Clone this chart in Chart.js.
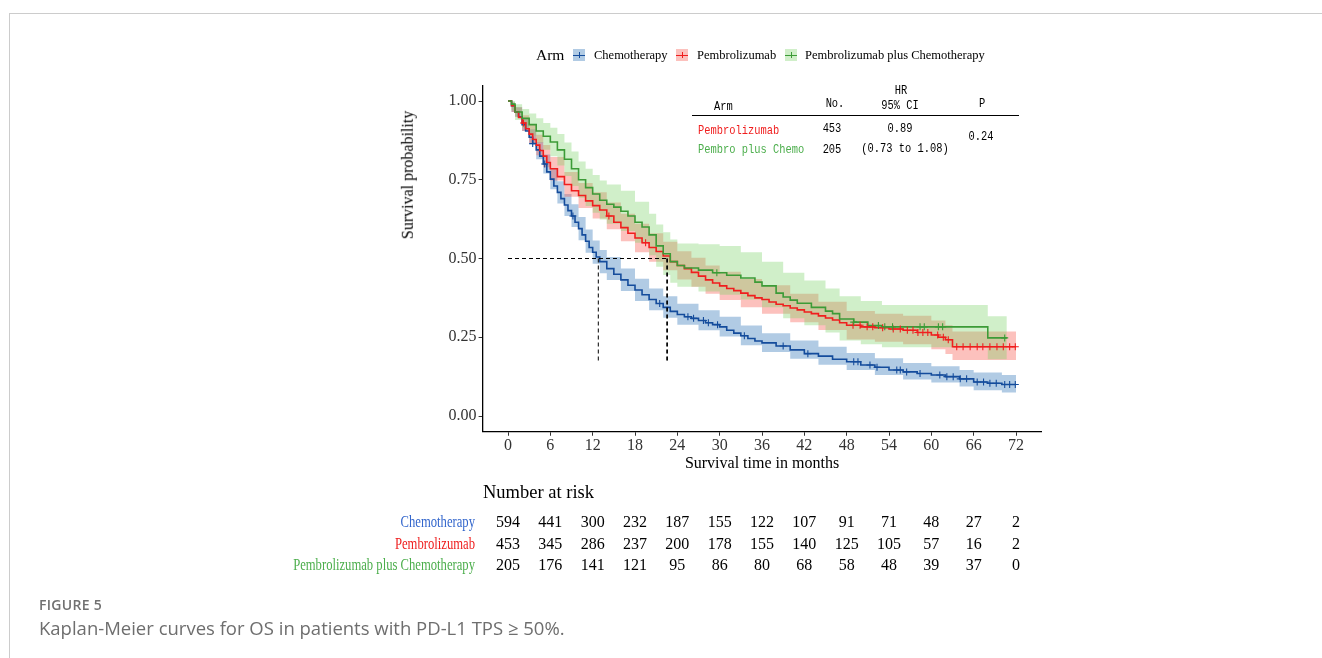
<!DOCTYPE html>
<html>
<head>
<meta charset="utf-8">
<title>Kaplan-Meier OS PD-L1 TPS 50%</title>
<script src="https://cdn.jsdelivr.net/npm/chart.js@4.4.1/dist/chart.umd.min.js"></script>
<style>
    html, body { margin: 0; padding: 0; background: #fff; }
    #page { position: relative; width: 1322px; height: 658px; overflow: hidden; font-family: 'Liberation Serif', 'Times New Roman', serif; color: #000; }
    #frame { position: absolute; left: 9px; top: 13px; right: 0; bottom: 0; border-top: 1px solid #cccccc; border-left: 1px solid #cccccc; }
    #wrap { position: absolute; left: 0; top: 0; width: 1322px; height: 658px; }
    .t { position: absolute; white-space: nowrap; line-height: 1.15; }
    .key { position: absolute; width: 12px; height: 12px; }
    .key i { position: absolute; display: block; }
    #hrLine { position: absolute; left: 692px; top: 115px; width: 327px; height: 1px; background: #000; }
</style>
</head>
<body>
<div id="page">
    <div id="frame"></div>
    <div id="wrap"><canvas id="kmChart" width="1322" height="658"></canvas></div>
    <div id="hrLine"></div>
</div>

<script>
// survival curves (months, probability)
var chemoTime = [0, 0.5, 1, 1.5, 2, 2.5, 3, 3.5, 4, 4.5, 5, 5.5, 6, 6.5, 7, 7.5, 8, 8.5, 9, 9.5, 10, 10.5, 11, 11.5, 12, 12.5, 13,
    14, 15, 16, 17, 18, 19, 20, 21, 22, 23, 24, 25, 26, 27, 28, 29, 30, 31, 32, 33, 34, 35, 36,
    38, 40, 42, 44, 46, 48, 50, 52, 54, 56, 58, 60, 62, 64, 66, 68, 70, 72];
var chemoSurv = [1.000, 0.985, 0.965, 0.950, 0.925, 0.905, 0.885, 0.865, 0.845, 0.825, 0.800, 0.775, 0.752, 0.730, 0.710, 0.690, 0.670, 0.652, 0.635, 0.615, 0.595, 0.575, 0.555, 0.535, 0.520, 0.505, 0.490,
    0.468, 0.450, 0.432, 0.415, 0.400, 0.385, 0.370, 0.357, 0.345, 0.332, 0.322, 0.315, 0.310, 0.303, 0.296, 0.290, 0.283, 0.272, 0.263, 0.255, 0.246, 0.238, 0.232,
    0.222, 0.210, 0.198, 0.190, 0.180, 0.172, 0.162, 0.155, 0.146, 0.140, 0.135, 0.130, 0.125, 0.118, 0.108, 0.104, 0.100, 0.100];

var pemTime = [0, 0.5, 1, 1.5, 2, 2.5, 3, 3.5, 4, 4.5, 5, 5.5, 6,
    7, 8, 9, 10, 11, 12, 13, 14, 15, 16, 17, 18, 19, 20, 21, 22, 23, 24, 25, 26, 27, 28, 29, 30, 31, 32, 33, 34, 35, 36, 37, 38, 39, 40, 41, 42, 43, 44, 45, 46, 47, 48,
    50, 52, 54, 56, 58, 60, 61, 62, 63, 72];
var pemSurv = [1.000, 0.985, 0.965, 0.948, 0.930, 0.912, 0.895, 0.878, 0.860, 0.843, 0.825, 0.805, 0.785,
    0.760, 0.735, 0.715, 0.700, 0.683, 0.668, 0.654, 0.635, 0.615, 0.598, 0.580, 0.565, 0.550, 0.535, 0.522, 0.508, 0.490, 0.478, 0.468, 0.456, 0.444, 0.432, 0.422, 0.413, 0.405, 0.398, 0.390, 0.382, 0.375, 0.370, 0.362, 0.355, 0.350, 0.343, 0.337, 0.330, 0.325, 0.318, 0.311, 0.305, 0.296, 0.288,
    0.283, 0.280, 0.276, 0.272, 0.265, 0.257, 0.250, 0.242, 0.220, 0.220];

var comboTime = [0, 0.5, 1, 2, 3, 4, 5, 6, 7, 8, 9, 10, 11, 12, 13, 14, 15, 16, 17, 18, 19, 20, 21, 22, 23, 24, 25,
    27, 29, 31, 33, 35, 36, 38, 39, 40, 41, 43, 45, 46, 47, 49, 51, 53, 68, 70.7];
var comboSurv = [1.000, 0.990, 0.965, 0.945, 0.925, 0.905, 0.888, 0.870, 0.845, 0.815, 0.785, 0.750, 0.725, 0.705, 0.685, 0.672, 0.663, 0.650, 0.635, 0.615, 0.600, 0.575, 0.540, 0.515, 0.490, 0.478, 0.470,
    0.463, 0.455, 0.447, 0.438, 0.425, 0.413, 0.390, 0.378, 0.368, 0.358, 0.345, 0.333, 0.325, 0.308, 0.298, 0.287, 0.283, 0.248, 0.248];

// 95% confidence bands
var chemoBandTime = [0, 0.5, 1, 2, 3, 4, 5, 6, 7, 8, 9, 10, 11, 12, 13, 14, 16, 18, 20, 22, 24, 27, 30, 33, 36, 40, 44, 48, 52, 56, 60, 64, 66, 70, 72];
var chemoLower = [1.000, 0.965, 0.950, 0.905, 0.860, 0.815, 0.770, 0.720, 0.675, 0.635, 0.600, 0.558, 0.518, 0.483, 0.453, 0.432, 0.397, 0.365, 0.336, 0.312, 0.290, 0.272, 0.252, 0.225, 0.203, 0.182, 0.163, 0.146, 0.130, 0.116, 0.106, 0.094, 0.082, 0.075, 0.075];
var chemoUpper = [1.000, 0.995, 0.980, 0.945, 0.910, 0.870, 0.830, 0.785, 0.745, 0.705, 0.672, 0.632, 0.592, 0.557, 0.527, 0.505, 0.468, 0.436, 0.405, 0.380, 0.356, 0.336, 0.315, 0.287, 0.263, 0.240, 0.220, 0.200, 0.183, 0.168, 0.158, 0.146, 0.138, 0.130, 0.130];

var pemBandTime = [0, 0.5, 1, 2, 3, 4, 5, 6, 8, 10, 12, 14, 16, 18, 20, 22, 24, 26, 28, 30, 33, 36, 40, 44, 48, 52, 56, 60, 62, 63, 72];
var pemLower = [1.000, 0.965, 0.950, 0.905, 0.865, 0.828, 0.790, 0.748, 0.696, 0.660, 0.627, 0.593, 0.555, 0.520, 0.490, 0.463, 0.433, 0.410, 0.388, 0.368, 0.345, 0.325, 0.298, 0.273, 0.243, 0.236, 0.228, 0.212, 0.197, 0.178, 0.178];
var pemUpper = [1.000, 0.995, 0.980, 0.955, 0.925, 0.893, 0.860, 0.822, 0.775, 0.740, 0.710, 0.678, 0.642, 0.610, 0.580, 0.553, 0.523, 0.502, 0.478, 0.458, 0.435, 0.415, 0.388, 0.363, 0.333, 0.325, 0.318, 0.303, 0.288, 0.268, 0.268];

var comboBandTime = [0, 0.5, 1, 2, 3, 4, 5, 6, 7, 8, 9, 10, 11, 12, 13, 14, 16, 18, 20, 21, 22, 23, 24, 27, 30, 33, 36, 39, 42, 45, 47, 50, 53, 68, 70.7];
var comboLower = [1.000, 0.970, 0.940, 0.915, 0.890, 0.868, 0.845, 0.825, 0.795, 0.762, 0.730, 0.693, 0.667, 0.645, 0.624, 0.610, 0.587, 0.550, 0.510, 0.474, 0.448, 0.423, 0.410, 0.395, 0.385, 0.370, 0.345, 0.310, 0.288, 0.265, 0.240, 0.228, 0.218, 0.180, 0.180];
var comboUpper = [1.000, 1.000, 0.990, 0.975, 0.960, 0.945, 0.930, 0.915, 0.895, 0.868, 0.840, 0.808, 0.785, 0.765, 0.748, 0.735, 0.715, 0.680, 0.642, 0.608, 0.583, 0.560, 0.548, 0.545, 0.540, 0.520, 0.490, 0.455, 0.430, 0.405, 0.380, 0.365, 0.352, 0.317, 0.317];

// censored observations (months)
var chemoCensor = [3.5, 5.2, 9.2, 21.5, 25.5, 26.3, 27.7, 28.4, 29.7, 33.5, 39, 42.5, 49, 49.6, 51.3, 52.3, 55.1, 55.6, 56.5, 58.4, 61.2, 62.2, 63.1, 64.1, 65, 66.5, 67.4, 68.3, 69.2, 70.4, 71.1, 71.9];
var pemCensor = [2.2, 14.3, 19.5, 48.9, 49.9, 50.9, 51.7, 53.1, 54.6, 55.6, 56.6, 57.4, 58.1, 58.8, 59.5, 60.9, 61.7, 62.4, 63.6, 64.5, 65.5, 66.5, 67.3, 68.3, 69.3, 70.2, 71.1, 71.9];
var comboCensor = [29.6, 49, 52.5, 53.4, 54.5, 58.4, 59, 61, 61.6, 70.4];

// median survival lines
var medianTimes = [12.8, 22.5, 22.6];
var medianLevel = 0.5;
var medianDropTo = 0.17;

// axes and number at risk
var yTickValues = [0, 0.25, 0.5, 0.75, 1];
var riskTimes = [0, 6, 12, 18, 24, 30, 36, 42, 48, 54, 60, 66, 72];
var chemoRisk = [594, 441, 300, 232, 187, 155, 122, 107, 91, 71, 48, 27, 2];
var pemRisk = [453, 345, 286, 237, 200, 178, 155, 140, 125, 105, 57, 16, 2];
var comboRisk = [205, 176, 141, 121, 95, 86, 80, 68, 58, 48, 39, 37, 0];

var armNames = ['Chemotherapy', 'Pembrolizumab', 'Pembrolizumab plus Chemotherapy'];

var SurvivalChart = {

    lineColors : ['#144c9c', '#f01e1e', '#3c9b37'],
    bandColors : ['rgba(70,132,190,0.42)', 'rgba(246,92,82,0.38)', 'rgba(125,212,105,0.36)'],
    textColors : ['#3366cc', '#ee1c1c', '#4cae4c'],
    serif : "'Liberation Serif', 'Times New Roman', serif",
    mono : "'Liberation Mono', 'Courier New', monospace",

    toPoints : function(xs, ys) {
        return xs.map(function(x, i) {
            return { x: x, y: ys[i] };
        });
    },

    valueAt : function(times, surv, t) {
        var v = surv[0];
        for (var i = 0; i < times.length; i++) {
            if (times[i] <= t) {
                v = surv[i];
            }
        }
        return v;
    },

    addText : function(text, x, y, o) {
        var d = document.createElement('div');
        d.className = 't';
        d.textContent = text;
        d.style.left = x + 'px';
        d.style.top = y + 'px';
        d.style.fontSize = (o.size || 13) + 'px';
        d.style.fontFamily = o.font || this.serif;
        d.style.color = o.color || '#000';
        if (o.weight) d.style.fontWeight = o.weight;
        if (o.spacing) d.style.letterSpacing = o.spacing;
        var align = o.align || 'left';
        var tx = align === 'right' ? '-100%' : (align === 'center' ? '-50%' : '0');
        var origin = align === 'right' ? '100%' : (align === 'center' ? '50%' : '0');
        d.style.transformOrigin = origin + ' 50%';
        d.style.transform = 'translate(' + tx + ',-50%)' + (o.scaleX ? ' scaleX(' + o.scaleX + ')' : '') + (o.rotate ? ' rotate(' + o.rotate + 'deg)' : '');
        document.getElementById('page').appendChild(d);
        return d;
    },

    addKey : function(x, y, i) {
        var k = document.createElement('div');
        k.className = 'key';
        k.style.left = x + 'px';
        k.style.top = (y - 6) + 'px';
        k.style.background = this.bandColors[i];
        var h = document.createElement('i');
        h.style.cssText = 'left:0;top:5.5px;width:12px;height:1.3px;background:' + this.lineColors[i];
        var v = document.createElement('i');
        v.style.cssText = 'left:5.5px;top:3px;width:1px;height:6px;background:' + this.lineColors[i];
        k.appendChild(h);
        k.appendChild(v);
        document.getElementById('page').appendChild(k);
    },

    buildDatasets : function() {
        var self = this;
        var sets = [];
        var curves = [
            [chemoTime, chemoSurv, chemoBandTime, chemoLower, chemoUpper, chemoCensor],
            [pemTime, pemSurv, pemBandTime, pemLower, pemUpper, pemCensor],
            [comboTime, comboSurv, comboBandTime, comboLower, comboUpper, comboCensor]
        ];

        curves.forEach(function(c, i) {
            sets.push({
                data: self.toPoints(c[2], c[4]), stepped: true, fill: '+1',
                backgroundColor: self.bandColors[i], borderColor: 'rgba(0,0,0,0)', borderWidth: 0,
                pointRadius: 0, order: 20 - i
            });
            sets.push({
                data: self.toPoints(c[2], c[3]), stepped: true, fill: false,
                borderColor: 'rgba(0,0,0,0)', borderWidth: 0, pointRadius: 0, order: 20 - i
            });
        });

        curves.forEach(function(c, i) {
            sets.push({
                data: self.toPoints(c[0], c[1]), stepped: true, fill: false,
                borderColor: self.lineColors[i], borderWidth: 1.6, pointRadius: 0, order: 10 - i
            });
            sets.push({
                data: c[5].map(function(t) { return { x: t, y: self.valueAt(c[0], c[1], t) }; }),
                showLine: false, pointStyle: 'cross', pointRadius: 3.5, pointBorderWidth: 1.1,
                pointBorderColor: self.lineColors[i], pointBackgroundColor: self.lineColors[i], order: 5 - i
            });
        });

        // dashed median lines
        sets.push({
            data: [{ x: 0, y: medianLevel }, { x: Math.max.apply(null, medianTimes), y: medianLevel }],
            borderColor: '#000', borderWidth: 1, borderDash: [4, 3], pointRadius: 0, fill: false, order: 1
        });
        medianTimes.forEach(function(m) {
            sets.push({
                data: [{ x: m, y: medianLevel }, { x: m, y: medianDropTo }],
                borderColor: '#000', borderWidth: 1, borderDash: [4, 3], pointRadius: 0, fill: false, order: 1
            });
        });

        return sets;
    },

    init : function() {
        var self = this;
        var tickFont = { family: 'Liberation Serif', size: 16 };

        var chart = new Chart(document.getElementById('kmChart'), {
            type: 'line',
            data: { datasets: this.buildDatasets() },
            options: {
                responsive: false,
                animation: false,
                events: [],
                layout: {
                    padding: { left: 422.6, right: 280.6, top: 85.25, bottom: 176.25 }
                },
                plugins: {
                    legend: { display: false },
                    tooltip: { enabled: false }
                },
                scales: {
                    x: {
                        type: 'linear', min: -3.6, max: 75.6,
                        afterFit: function(scale) { scale.height = 50; },
                        afterBuildTicks: function(scale) {
                            scale.ticks = riskTimes.map(function(v) { return { value: v }; });
                        },
                        ticks: { font: tickFont, color: '#333', padding: 0, maxRotation: 0,
                            callback: function(value) { return value; } },
                        grid: { display: true, drawOnChartArea: false, drawTicks: true, tickLength: 4, color: '#333' },
                        border: { display: true, color: '#000', width: 1.3 }
                    },
                    y: {
                        type: 'linear', min: -0.05, max: 1.05,
                        afterFit: function(scale) { scale.width = 60; },
                        afterBuildTicks: function(scale) {
                            scale.ticks = yTickValues.map(function(v) { return { value: v }; });
                        },
                        ticks: { font: tickFont, color: '#333', padding: 2,
                            callback: function(value) { return value.toFixed(2); } },
                        grid: { display: true, drawOnChartArea: false, drawTicks: true, tickLength: 4, color: '#333' },
                        border: { display: true, color: '#000', width: 1.3 }
                    }
                }
            }
        });

        // axis titles
        this.addText('Survival probability', 408, 175, { size: 16, align: 'center', rotate: -90 });
        this.addText('Survival time in months', 762, 463, { size: 16, align: 'center' });

        // legend
        this.addText('Arm', 536, 55, { size: 15.5 });
        this.addKey(573, 55, 0);
        this.addText(armNames[0], 594, 55, { size: 12.5 });
        this.addKey(676, 55, 1);
        this.addText(armNames[1], 697, 55, { size: 12.5 });
        this.addKey(785, 55, 2);
        this.addText(armNames[2], 805, 55, { size: 12.5 });

        // hazard ratio table
        var m = { font: this.mono, size: 12.4, scaleX: 0.84 };
        this.addText('HR', 901, 91, Object.assign({}, m, { align: 'center' }));
        this.addText('Arm', 714, 107, m);
        this.addText('No.', 835, 104, Object.assign({}, m, { align: 'center' }));
        this.addText('95% CI', 900, 106, Object.assign({}, m, { align: 'center' }));
        this.addText('P', 982, 104, Object.assign({}, m, { align: 'center' }));
        this.addText('Pembrolizumab', 698, 131, Object.assign({}, m, { color: this.lineColors[1] }));
        this.addText('453', 832, 129, Object.assign({}, m, { align: 'center' }));
        this.addText('0.89', 900, 129, Object.assign({}, m, { align: 'center' }));
        this.addText('Pembro plus Chemo', 698, 150, Object.assign({}, m, { color: '#4cae4c' }));
        this.addText('205', 832, 150, Object.assign({}, m, { align: 'center' }));
        this.addText('(0.73 to 1.08)', 905, 149, Object.assign({}, m, { align: 'center' }));
        this.addText('0.24', 981, 137, Object.assign({}, m, { align: 'center' }));

        // number at risk
        this.addText('Number at risk', 483, 493, { size: 18.5 });
        var rows = [chemoRisk, pemRisk, comboRisk];
        var rowY = [522, 544, 565];
        rows.forEach(function(row, r) {
            self.addText(armNames[r], 475, rowY[r], { size: 16, align: 'right', scaleX: 0.79, color: self.textColors[r] });
            row.forEach(function(n, i) {
                self.addText(String(n), chart.scales.x.getPixelForValue(riskTimes[i]), rowY[r], { size: 16, align: 'center' });
            });
        });

        // caption
        var sans = "'Open Sans', Lato, sans-serif";
        this.addText('FIGURE 5', 39, 605, { font: sans, size: 14, weight: 600, color: '#707070', spacing: '0.3px' });
        this.addText('Kaplan-Meier curves for OS in patients with PD-L1 TPS \u2265 50%.', 39, 628, { font: sans, size: 18.5, color: '#6e6e6e' });
    }
};

SurvivalChart.init();
</script>
</body>
</html>
